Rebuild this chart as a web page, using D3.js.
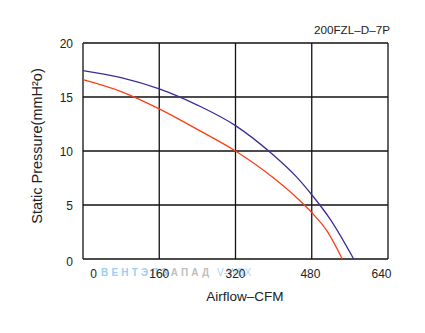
<!DOCTYPE html>
<html><head><meta charset="utf-8">
<script src="https://cdn.jsdelivr.net/npm/d3@7"></script>
<style>
html,body{margin:0;padding:0;background:#fff;}
svg{display:block;font-family:"Liberation Sans",Arial,Helvetica,sans-serif;}
</style></head>
<body>
<svg id="chart" width="425" height="333"></svg>
<script>
const chartTitle = "200FZL\u2013D\u20137P";
const xTitle = "Airflow\u2013CFM";
const yTitle = "Static Pressure(mmH\u00B2o)";
const xTicks = [0, 160, 320, 480, 640];
const yTicks = [0, 5, 10, 15, 20];
const blueCFM = [0, 80, 160, 240, 320, 400, 448, 480, 520, 568];
const bluePressure = [17.45, 16.8, 15.75, 14.25, 12.35, 9.6, 7.6, 5.95, 3.6, 0];
const redCFM = [0, 80, 160, 240, 320, 400, 448, 480, 512, 544];
const redPressure = [16.6, 15.5, 13.9, 12.0, 10.0, 7.5, 5.7, 4.3, 2.6, 0];

const svg = d3.select("#chart");
const L = 83, R = 388, T = 43, B = 259;
const x = d3.scaleLinear().domain([0, 640]).range([L, R]);
const y = d3.scaleLinear().domain([0, 20]).range([B, T]);

// grid
const g = svg.append("g");
g.selectAll("line.vx").data(xTicks).join("line")
  .attr("x1", d => x(d)).attr("x2", d => x(d)).attr("y1", T).attr("y2", B)
  .attr("stroke", "#111").attr("stroke-width", 1.3);
g.selectAll("line.hy").data(yTicks).join("line")
  .attr("x1", L).attr("x2", R).attr("y1", d => y(d)).attr("y2", d => y(d))
  .attr("stroke", "#111").attr("stroke-width", 1.3);

// y labels
svg.append("g").selectAll("text").data(yTicks).join("text")
  .attr("x", 73).attr("y", d => y(d) + (d === 0 ? 7 : 5))
  .attr("text-anchor", "end").attr("font-size", 12).attr("fill", "#222")
  .text(d => d);

// watermark
const wm = svg.append("text").attr("y", 276).attr("font-size", 10).attr("font-weight", "bold")
  .attr("letter-spacing", 3.2).attr("opacity", 0.85);
wm.append("tspan").attr("x", 101).attr("fill", "#8cc6ee").text("ВЕНТЭЛ");
wm.append("tspan").attr("fill", "#b4b4b4").text("ЗАПАД");
svg.append("text").attr("x", 217).attr("y", 276).attr("font-size", 10).attr("fill", "#a8d4f2")
  .attr("letter-spacing", 0.5).text("V-WBX");

// x labels
svg.append("g").selectAll("text").data(xTicks).join("text")
  .attr("x", (d, i) => x(d) + (i === 0 ? 10.5 : i === xTicks.length - 1 ? -6.5 : (i === 3 ? -1.3 : 0)))
  .attr("y", 278).attr("text-anchor", "middle").attr("font-size", 12).attr("fill", "#222")
  .text(d => d);

// curves
const line = d3.line().x(d => x(d[0])).y(d => y(d[1])).curve(d3.curveMonotoneX);
svg.append("path").datum(redCFM.map((c, i) => [c, redPressure[i]]))
  .attr("d", line).attr("fill", "none").attr("stroke", "#ff3c14").attr("stroke-width", 1.3);
svg.append("path").datum(blueCFM.map((c, i) => [c, bluePressure[i]]))
  .attr("d", line).attr("fill", "none").attr("stroke", "#3a2e96").attr("stroke-width", 1.3);

// titles
svg.append("text").attr("x", 390).attr("y", 34).attr("text-anchor", "end")
  .attr("font-size", 11.7).attr("fill", "#222").text(chartTitle);
svg.append("text").attr("x", 245).attr("y", 301).attr("text-anchor", "middle")
  .attr("font-size", 13.5).attr("fill", "#222").text(xTitle);
svg.append("text").attr("transform", "translate(42,146) rotate(-90)").attr("text-anchor", "middle")
  .attr("font-size", 14.5).attr("fill", "#222").text(yTitle);
</script>
</body></html>
